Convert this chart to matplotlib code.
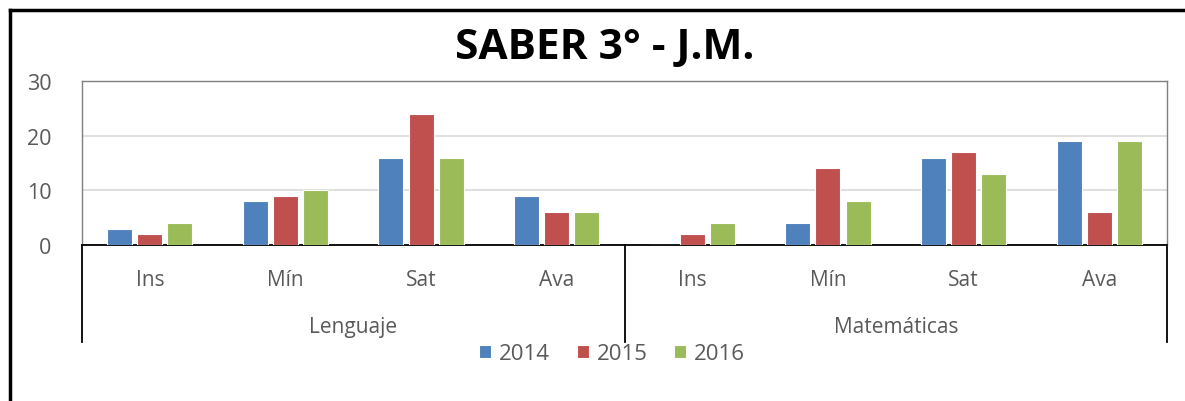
import numpy as np
import matplotlib
matplotlib.use('Agg')
from matplotlib import pyplot as plt
from matplotlib.lines import Line2D
import matplotlib.transforms as mtransforms

plt.rcParams['font.family'] = ['Open Sans', 'DejaVu Sans']

GROUPS = ['Lenguaje', 'Matemáticas']
LEVELS = ['Ins', 'Mín', 'Sat', 'Ava']
YEARS = ['2014', '2015', '2016']
V2014 = [3, 8, 16, 9, 0, 4, 16, 19]
V2015 = [2, 9, 24, 6, 2, 14, 17, 6]
V2016 = [4, 10, 16, 6, 4, 8, 13, 19]
COLORS = ['#4F81BD', '#C0504D', '#9BBB59']
TXT = '#595959'

W, H = 1185, 402
fig = plt.figure(figsize=(W / 100, H / 100), dpi=100)
ax = fig.add_axes([82 / W, 1 - 246 / H, (1167 - 82) / W, (246 - 82) / H])

x = np.arange(len(V2014))
width = 0.185
pitch = 0.222
for i, (vals, col, lab) in enumerate(zip([V2014, V2015, V2016], COLORS, YEARS)):
    ax.bar(x + (i - 1) * pitch, vals, width, color=col, edgecolor='white',
           linewidth=0.8, label=lab, zorder=3)

ax.set_xlim(-0.5, len(x) - 0.5)
ax.set_ylim(0, 30)
ax.set_yticks([0, 10, 20, 30])
ax.yaxis.grid(True, color='#D9D9D9', linewidth=1.2, zorder=0)
ax.tick_params(axis='y', length=0, pad=22, labelsize=15.5, labelcolor=TXT)
ax.set_xticks(x)
ax.set_xticklabels(LEVELS * len(GROUPS))
ax.tick_params(axis='x', length=0, pad=17, labelsize=15, labelcolor=TXT)
for s in ['top', 'right', 'left']:
    ax.spines[s].set_color('#7F7F7F')
    ax.spines[s].set_linewidth(1.0)
ax.spines['bottom'].set_color('black')
ax.spines['bottom'].set_linewidth(1.3)

# multi-level category axis
trans = mtransforms.blended_transform_factory(ax.transData, ax.transAxes)
low = -(343 - 246) / (246 - 82)
for xs in [-0.5, 3.5, 7.5]:
    ax.add_line(Line2D([xs, xs], [0, low], transform=trans, color='black',
                       linewidth=1.3, clip_on=False))
for gi, g in enumerate(GROUPS):
    ax.text(gi * 4 + 1.5, -(328 - 246) / (246 - 82), g, transform=trans,
            ha='center', va='center', fontsize=15, color=TXT)

ax.legend(loc='center', bbox_to_anchor=(612 / W, 1 - 355 / H), bbox_transform=fig.transFigure,
          ncol=3, frameon=False, fontsize=16, labelcolor=TXT, handlelength=0.55,
          handleheight=0.55, handletextpad=0.35, columnspacing=1.2)

fig.text(605 / W, 1 - 49 / H, 'SABER 3° - J.M.', ha='center', va='center',
         fontsize=30.5, fontweight='bold', color='black')

# outer frame of the screenshot
fig.add_artist(Line2D([10 / W, 1], [1 - 11 / H, 1 - 11 / H], transform=fig.transFigure,
                      color='black', linewidth=2.5))
fig.add_artist(Line2D([10 / W, 10 / W], [0, 1 - 11 / H], transform=fig.transFigure,
                      color='black', linewidth=2.5))

fig.savefig('out.png', dpi=100)
